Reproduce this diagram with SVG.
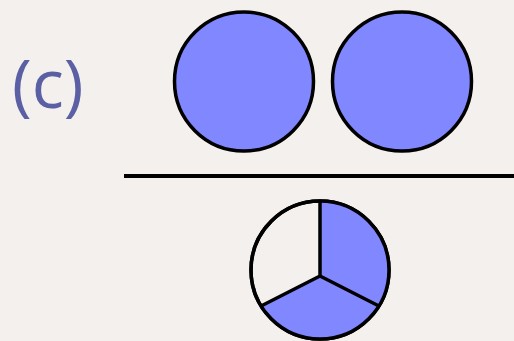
<svg xmlns="http://www.w3.org/2000/svg" width="514" height="341" viewBox="0 0 514 341">
<style>
.shape{stroke:#000;stroke-width:3.5;stroke-linejoin:round}
.blue{fill:#8087ff}
.empty{fill:#f3f0ed}
.label{font-family:"Open Sans","Noto Sans",sans-serif;font-size:67px;fill:#5b60a4}
</style>
<rect width="514" height="341" fill="#f3f0ed"/>
<g id="label"><text class="label" x="12" y="108">(c)</text></g>
<g id="circle1"><circle class="shape blue" cx="244" cy="81.5" r="69.5"/></g>
<g id="circle2"><circle class="shape blue" cx="402" cy="81.5" r="69.5"/></g>
<g id="fraction-bar"><line x1="124" y1="176" x2="514" y2="176" stroke="#000" stroke-width="3.8"/></g>
<g id="pie">
<circle class="shape empty" cx="320" cy="270" r="69"/>
<path class="blue" d="M320 276 L320 201 A69 69 0 0 1 378.9 306 Z"/>
<path class="blue" d="M320 276 L378.9 306 A69 69 0 0 1 261.1 306 Z"/>
<path d="M320 201 L320 276 M261.1 306 L320 276 L378.9 306" fill="none" stroke="#000" stroke-width="3.5" stroke-linejoin="round"/>
<circle cx="320" cy="270" r="69" fill="none" stroke="#000" stroke-width="3.5"/>
</g>
</svg>
